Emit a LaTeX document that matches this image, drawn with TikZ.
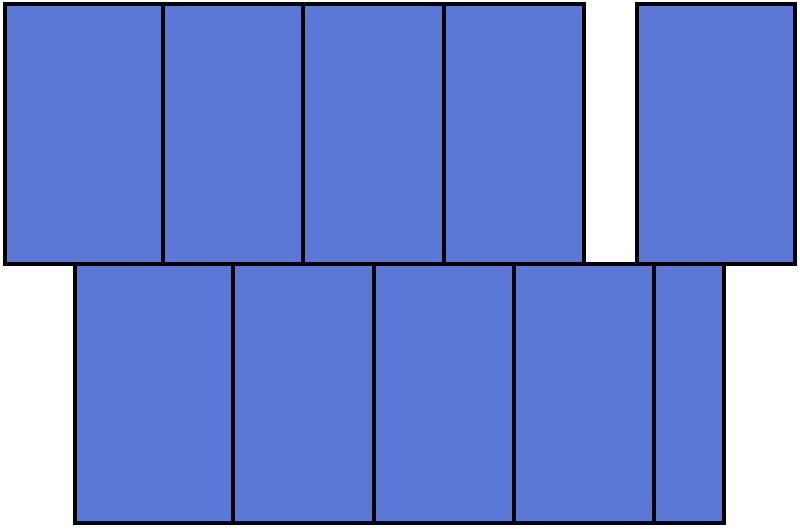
\documentclass[tikz,border=0pt]{standalone}
\definecolor{brickblue}{RGB}{92,120,214}
\begin{document}
\begin{tikzpicture}[x=0.02cm,y=-0.02cm]
  \tikzset{brick/.style={fill=brickblue,draw=black,line width=2.3pt}}
  \useasboundingbox (0,0) rectangle (800,528);
  \begin{scope}
    % top row
    \draw [brick] (5, 4) rectangle (163, 264);
    \draw [brick] (163, 4) rectangle (303, 264);
    \draw [brick] (303, 4) rectangle (444, 264);
    \draw [brick] (444, 4) rectangle (584, 264);
    \draw [brick] (637, 4) rectangle (795, 264);

    % bottom row
    \draw [brick] (75, 264) rectangle (233, 523);
    \draw [brick] (233, 264) rectangle (374, 523);
    \draw [brick] (374, 264) rectangle (514, 523);
    \draw [brick] (514, 264) rectangle (654, 523);
    \draw [brick] (654, 264) rectangle (724, 523);
  \end{scope}
\end{tikzpicture}
\end{document}
